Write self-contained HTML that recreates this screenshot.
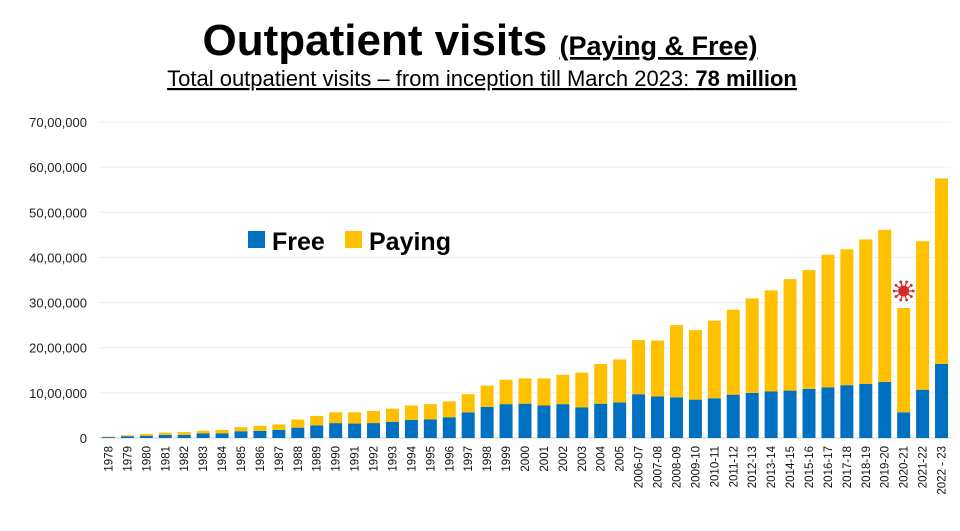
<!DOCTYPE html>
<html><head><meta charset="utf-8"><style>
body{margin:0;background:#fff;width:960px;height:526px;overflow:hidden;font-family:"Liberation Sans",sans-serif}
</style></head><body>
<svg id="c" width="960" height="526" xmlns="http://www.w3.org/2000/svg">
<text x="480" y="55" text-anchor="middle" font-family="Liberation Sans,sans-serif" font-weight="bold"><tspan font-size="44">Outpatient visits </tspan><tspan font-size="27" text-decoration="underline">(Paying &amp; Free)</tspan></text>
<text x="482" y="86" text-anchor="middle" font-size="22" text-decoration="underline">Total outpatient visits – from inception till March 2023: <tspan font-weight="bold">78 million</tspan></text>
<g id="grid"></g><g id="bars"></g><g id="xl"></g>
<g>
<rect x="248" y="231" width="17" height="17" fill="#0070c0"/>
<text x="272" y="250" font-size="25" font-weight="bold">Free</text>
<rect x="345" y="231" width="17" height="17" fill="#ffc000"/>
<text x="369" y="250" font-size="25" font-weight="bold">Paying</text>
</g>
<g id="virus"></g>
</svg>
<script>
const categories=["1978","1979","1980","1981","1982","1983","1984","1985","1986","1987","1988","1989","1990","1991","1992","1993","1994","1995","1996","1997","1998","1999","2000","2001","2002","2003","2004","2005","2006-07","2007-08","2008-09","2009-10","2010-11","2011-12","2012-13","2013-14","2014-15","2015-16","2016-17","2017-18","2018-19","2019-20","2020-21","2021-22","2022 - 23"];
const totalLakh=[0.3,0.6,0.9,1.2,1.3,1.6,1.8,2.4,2.7,3.0,4.1,4.9,5.7,5.7,6.0,6.5,7.2,7.5,8.1,9.7,11.6,12.9,13.2,13.2,14.0,14.5,16.4,17.4,21.7,21.6,25.0,23.9,26.0,28.4,30.9,32.7,35.2,37.2,40.6,41.8,44.0,46.1,28.8,43.6,57.5];
const freeLakh=[0.2,0.4,0.5,0.7,0.7,1.0,1.0,1.5,1.6,1.8,2.3,2.8,3.3,3.2,3.3,3.6,4.0,4.1,4.6,5.7,6.9,7.5,7.6,7.2,7.5,6.8,7.6,7.9,9.7,9.2,9.0,8.5,8.8,9.6,10.0,10.3,10.5,10.9,11.2,11.7,12.0,12.4,5.7,10.7,16.4];
const yTicks=[0,10,20,30,40,50,60,70];
const yTickLabels=["0","10,00,000","20,00,000","30,00,000","40,00,000","50,00,000","60,00,000","70,00,000"];
const NS="http://www.w3.org/2000/svg";
const y0=438,yTop=122,yMax=70,x0=99,x1=951;
const y=v=>y0-(y0-yTop)*v/yMax;
const step=(x1-x0)/categories.length;
const xc=i=>x0+step*(i+0.5);
function mk(t,a,p){const e=document.createElementNS(NS,t);for(const k in a)e.setAttribute(k,a[k]);p.appendChild(e);return e;}
const grid=document.getElementById('grid');
yTicks.forEach((t,i)=>{
 const l=mk('line',{x1:x0,x2:x1,y1:y(t),y2:y(t),stroke:i==0?'#d0d0d0':'#ececec','stroke-width':1},grid);
 
 
 const tx=mk('text',{x:87,y:y(t)+5,'text-anchor':'end','font-size':13,fill:'#222'},grid);
 tx.textContent=yTickLabels[i];
 
 
});
const bars=document.getElementById('bars'),xl=document.getElementById('xl');
const bw=13;
categories.forEach((c,i)=>{
 const f=mk('rect',{x:xc(i)-bw/2,y:y(freeLakh[i]),width:bw,height:y0-y(freeLakh[i]),fill:'#0070c0'},bars);
 
 
 const p=mk('rect',{x:xc(i)-bw/2,y:y(totalLakh[i]),width:bw,height:y(freeLakh[i])-y(totalLakh[i]),fill:'#ffc000'},bars);
 
 
 const t=mk('text',{x:0,y:0,'text-anchor':'end','font-size':11.5,fill:'#111',transform:`translate(${xc(i)+4},446) rotate(-90)`},xl);
 t.textContent=c;
 
 
});
// virus icon above 2020-21
const vi=document.getElementById('virus');const vx=xc(42),vy=y(totalLakh[42])-17;
mk('circle',{cx:vx,cy:vy,r:5.5,fill:'#d62828'},vi);
for(let k=0;k<10;k++){const a=k*Math.PI/5;mk('line',{x1:vx,y1:vy,x2:vx+9*Math.cos(a),y2:vy+9*Math.sin(a),stroke:'#d62828','stroke-width':1.2},vi);mk('circle',{cx:vx+9.5*Math.cos(a),cy:vy+9.5*Math.sin(a),r:1.4,fill:'#d62828'},vi);}
</script>
</body></html>
